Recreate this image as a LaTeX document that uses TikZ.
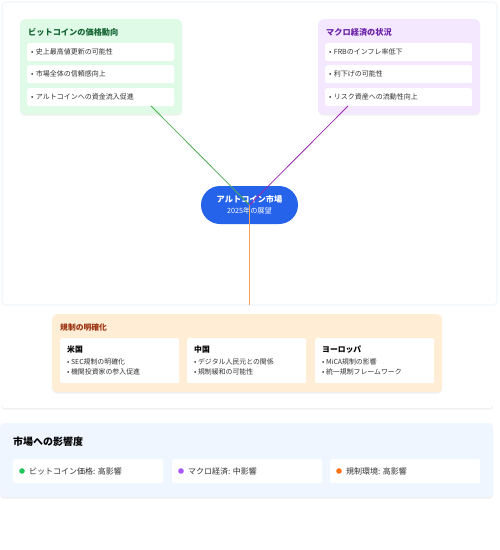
\documentclass[tikz,border=0pt]{standalone}
\usepackage{fontspec}
\setmainfont{Noto Sans CJK JP}
\usetikzlibrary{shadows}
\definecolor{gfill}{HTML}{DFFBE7}
\definecolor{gtitle}{HTML}{166534}
\definecolor{gline}{HTML}{4CAF50}
\definecolor{pfill}{HTML}{F3E8FF}
\definecolor{ptitle}{HTML}{6B21A8}
\definecolor{pline}{HTML}{9C27B0}
\definecolor{ofill}{HTML}{FFEDD5}
\definecolor{otitle}{HTML}{9A3412}
\definecolor{oline}{HTML}{F5A05A}
\definecolor{cblue}{HTML}{2563EB}
\definecolor{ifill}{HTML}{EFF6FF}
\definecolor{pborder}{HTML}{E6EEF8}
\definecolor{txt}{HTML}{333333}
\definecolor{dgreen}{HTML}{22C55E}
\definecolor{dpurple}{HTML}{A855F7}
\definecolor{dorange}{HTML}{F97316}
\tikzset{
  panel/.style={draw=pborder, fill=white, rounded corners=4pt, line width=0.6pt},
  grp/.style={rounded corners=5pt, drop shadow={opacity=0.12, shadow xshift=0pt, shadow yshift=-1.5pt}, anchor=north west, inner sep=0pt},
  item/.style={fill=white, rounded corners=2pt, anchor=north west, minimum width=147pt, minimum height=18pt, text width=139pt, inner sep=4pt, align=left, font=\fontsize{7}{8.5}\selectfont, text=txt},
  gtitle/.style={anchor=west, inner sep=0pt, font=\fontsize{8.2}{10}\selectfont\bfseries},
  reg/.style={fill=white, rounded corners=2pt, anchor=north west, minimum width=119pt, minimum height=45pt, inner sep=0pt},
  regt/.style={anchor=west, inner sep=0pt, font=\fontsize{7.8}{9}\selectfont\bfseries, text=black},
  regi/.style={anchor=west, inner sep=0pt, font=\fontsize{6.9}{8}\selectfont, text=txt},
  imp/.style={fill=white, rounded corners=2pt, anchor=north west, minimum width=150pt, minimum height=24pt, inner sep=0pt},
  impt/.style={anchor=west, inner sep=0pt, font=\fontsize{8}{9}\selectfont, text=txt},
  conn/.style={line width=0.8pt}
}
\begin{document}
\begin{tikzpicture}[x=1pt,y=-1pt]
\useasboundingbox (0,0) rectangle (500,550);
\fill[white] (0,0) rectangle (500,550);
% panel 1
\draw[panel] (2,2) rectangle (497,305);
% green group
\node[grp, fill=gfill, minimum width=162pt, minimum height=95pt] (g) at (20,19) {};
\node[gtitle, text=gtitle] (gt) at (28,32) {ビットコインの価格動向};
\node[item] (g1) at (27,43) {• 史上最高値更新の可能性};
\node[item] (g2) at (27,65) {• 市場全体の信頼感向上};
\node[item] (g3) at (27,88) {• アルトコインへの資金流入促進};
% purple group
\node[grp, fill=pfill, minimum width=162pt, minimum height=95pt] (p) at (318,19) {};
\node[gtitle, text=ptitle] (pt) at (326,32) {マクロ経済の状況};
\node[item] (p1) at (325,43) {• FRBのインフレ率低下};
\node[item] (p2) at (325,65) {• 利下げの可能性};
\node[item] (p3) at (325,88) {• リスク資産への流動性向上};
% center
\node[fill=cblue, rounded corners=19pt, minimum width=97pt, minimum height=38pt, inner sep=0pt, align=center, text=white] (c) at (249.5,205)
  {{\fontsize{8.2}{10}\selectfont\bfseries アルトコイン市場}\\[-1pt]{\fontsize{7.2}{9}\selectfont 2025年の展望}};
\coordinate (ga) at (151,106);
\coordinate (pa) at (348,106);
\coordinate (oa) at (249.5,305);
\draw[conn, gline] (ga) -- (c.center);
\draw[conn, pline] (pa) -- (c.center);
\draw[conn, oline] (c.center) -- (oa);
% panel 2
\node[grp, fill=white, rounded corners=4pt, minimum width=492pt, minimum height=96pt] (r) at (1,312) {};
\node[grp, fill=ofill, minimum width=390pt, minimum height=78pt] (o) at (52,314) {};
\node[gtitle, text=otitle, font=\fontsize{7.8}{9}\selectfont\bfseries] (ot) at (60,328) {規制の明確化};
\node[reg] (us) at (60,338) {};
\node[reg] (cn) at (187,338) {};
\node[reg] (eu) at (315,338) {};
\node[regt] (ust) at (67,350) {米国};
\node[regi] (us1) at (67,362) {• SEC規制の明確化};
\node[regi] (us2) at (67,372) {• 機関投資家の参入促進};
\node[regt] (cnt) at (194,350) {中国};
\node[regi] (cn1) at (194,362) {• デジタル人民元との関係};
\node[regi] (cn2) at (194,372) {• 規制緩和の可能性};
\node[regt] (eut) at (322,350) {ヨーロッパ};
\node[regi] (eu1) at (322,362) {• MiCA規制の影響};
\node[regi] (eu2) at (322,372) {• 統一規制フレームワーク};
% panel 3
\node[grp, fill=ifill, rounded corners=4pt, minimum width=493pt, minimum height=74pt] (im) at (0,423) {};
\node[anchor=west, inner sep=0pt, font=\fontsize{10}{12}\selectfont\bfseries] (imt) at (13,442) {市場への影響度};
\node[imp] (i1) at (13,459) {};
\node[imp] (i2) at (172,459) {};
\node[imp] (i3) at (330,459) {};
\fill[dgreen] (22,471) circle (2.8pt);
\fill[dpurple] (181,471) circle (2.8pt);
\fill[dorange] (339,471) circle (2.8pt);
\node[impt] (i1t) at (29,471) {ビットコイン価格: 高影響};
\node[impt] (i2t) at (188,471) {マクロ経済: 中影響};
\node[impt] (i3t) at (346,471) {規制環境: 高影響};
\end{tikzpicture}
\end{document}
